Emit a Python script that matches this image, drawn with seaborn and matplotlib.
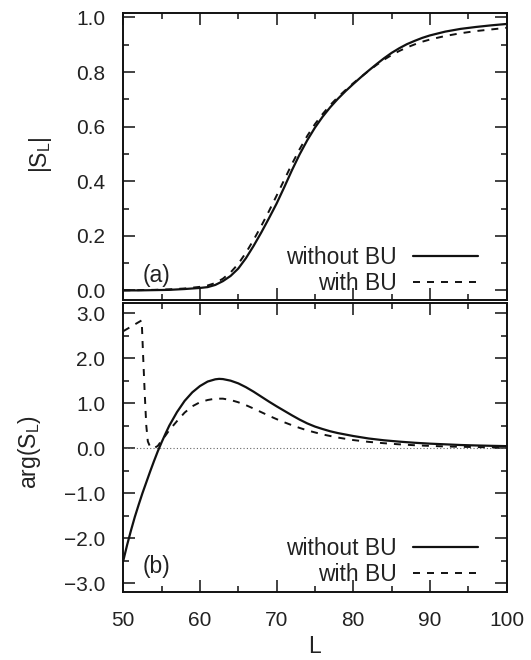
import numpy as np
import pandas as pd
import matplotlib
matplotlib.use('Agg')
import matplotlib.pyplot as plt
import seaborn as sns
from matplotlib.ticker import MultipleLocator

# |S_L|
L_abs = [50, 52, 54, 56, 58, 60, 61, 62, 63, 64, 65, 66, 67, 68, 69, 70,
         71, 72, 73, 74, 75, 76, 77, 78, 79, 80, 81, 82, 83, 84, 85, 86,
         87, 88, 89, 90, 92, 94, 96, 98, 100]
abs_without = [0.000, 0.000, 0.001, 0.002, 0.005, 0.009, 0.012, 0.020, 0.034,
               0.053, 0.080, 0.118, 0.163, 0.212, 0.264, 0.318, 0.378, 0.440,
               0.498, 0.550, 0.596, 0.636, 0.671, 0.702, 0.730, 0.756, 0.781,
               0.805, 0.828, 0.850, 0.870, 0.887, 0.902, 0.914, 0.925, 0.934,
               0.948, 0.958, 0.965, 0.971, 0.976]
abs_with = [0.000, 0.001, 0.002, 0.004, 0.007, 0.013, 0.018, 0.027, 0.043,
            0.066, 0.097, 0.138, 0.185, 0.236, 0.290, 0.347, 0.405, 0.463,
            0.517, 0.566, 0.609, 0.646, 0.679, 0.708, 0.734, 0.759, 0.782,
            0.804, 0.825, 0.845, 0.862, 0.877, 0.890, 0.901, 0.911, 0.919,
            0.932, 0.942, 0.950, 0.956, 0.962]

# arg(S_L)
L_arg_without = [50, 50.5, 51, 51.5, 52, 52.5, 53, 53.5, 54, 54.5, 55, 55.5,
                 56, 57, 58, 59, 60, 61, 62, 62.5, 63, 64, 65, 66, 67, 68, 69,
                 70, 71, 72, 73, 74, 75, 76, 77, 78, 80, 82, 84, 86, 88, 90,
                 92, 94, 96, 98, 100]
arg_without = [-2.50, -2.15, -1.83, -1.53, -1.26, -1.00, -0.76, -0.52, -0.29,
               -0.07, 0.13, 0.32, 0.50, 0.80, 1.05, 1.24, 1.38, 1.48, 1.53,
               1.54, 1.535, 1.50, 1.44, 1.355, 1.255, 1.145, 1.035, 0.93,
               0.83, 0.73, 0.635, 0.55, 0.48, 0.425, 0.375, 0.335, 0.27,
               0.215, 0.175, 0.145, 0.12, 0.10, 0.085, 0.07, 0.06, 0.052,
               0.045]
L_arg_with = [50, 51, 52, 52.4, 52.6, 52.8, 53.0, 53.2, 53.5, 54, 54.5, 55,
              55.5, 56, 57, 58, 59, 60, 61, 62, 63, 64, 65, 66, 67, 68, 69,
              70, 71, 72, 73, 74, 76, 78, 80, 82, 84, 86, 88, 90, 92, 94, 96,
              98, 100]
arg_with = [2.60, 2.70, 2.80, 2.84, 2.00, 1.20, 0.50, 0.15, 0.03, 0.00, 0.05,
            0.17, 0.28, 0.40, 0.60, 0.79, 0.93, 1.02, 1.07, 1.10, 1.10, 1.07,
            1.02, 0.955, 0.88, 0.80, 0.72, 0.645, 0.575, 0.51, 0.45, 0.395,
            0.305, 0.235, 0.18, 0.14, 0.11, 0.085, 0.065, 0.05, 0.038, 0.03,
            0.024, 0.019, 0.015]

sns.set_theme(style='ticks')
plt.rcParams['font.family'] = ['Liberation Sans', 'DejaVu Sans']
plt.rcParams['mathtext.default'] = 'regular'
plt.rcParams['text.color'] = '#222222'
plt.rcParams['axes.labelcolor'] = '#222222'
plt.rcParams['xtick.color'] = '#222222'
plt.rcParams['ytick.color'] = '#222222'

FS = 15        # tick labels
FS_TXT = 16.5  # legend, axis labels, panel tags
INK = '#111111'
DASH = (3.6, 3.6)

fig = plt.figure(figsize=(5.31, 6.6), dpi=100)
ax1 = fig.add_axes([0.2322, 0.5447, 0.7217, 0.4351])
ax2 = fig.add_axes([0.2322, 0.1035, 0.7217, 0.4370])

# panel (a)
sns.lineplot(x=L_abs, y=abs_without, ax=ax1, color=INK, lw=1.6,
             label='without BU')
sns.lineplot(x=L_abs, y=abs_with, ax=ax1, color=INK, lw=1.4,
             label='with BU', linestyle=(0, DASH))

# panel (b)
ax2.axhline(0, color='#666666', lw=0.8, ls=(0, (1, 2)), zorder=1)
sns.lineplot(x=L_arg_without, y=arg_without, ax=ax2, color=INK, lw=1.6,
             label='without BU')
sns.lineplot(x=L_arg_with, y=arg_with, ax=ax2, color=INK, lw=1.4,
             label='with BU', linestyle=(0, DASH))

ax1.set_ylim(-0.037, 1.015)
ax2.set_ylim(-3.19, 3.22)
for ax, leg_y in ((ax1, 0.104), (ax2, 0.105)):
    ax.set_xlim(50, 100)
    ax.xaxis.set_major_locator(MultipleLocator(10))
    ax.xaxis.set_minor_locator(MultipleLocator(5))
    ax.tick_params(which='both', direction='in', top=True, right=True,
                   labelsize=FS, width=1.2)
    ax.tick_params(which='major', length=8.5)
    ax.tick_params(which='minor', length=4.5)
    ax.tick_params(axis='y', which='major', pad=13)
    ax.tick_params(axis='x', which='major', pad=14)
    for s in ax.spines.values():
        s.set_linewidth(1.4)
        s.set_color(INK)
    ax.legend(loc='center right', bbox_to_anchor=(0.926, leg_y),
              frameon=False, markerfirst=False, fontsize=FS_TXT,
              handlelength=2.84, handletextpad=0.72, borderpad=0,
              borderaxespad=0, labelspacing=0.1)

ax1.yaxis.set_major_locator(MultipleLocator(0.2))
ax1.yaxis.set_minor_locator(MultipleLocator(0.1))
ax1.yaxis.set_major_formatter(lambda v, p: f'{v:.1f}')
ax1.tick_params(labelbottom=False)

ax2.yaxis.set_major_locator(MultipleLocator(1.0))
ax2.yaxis.set_minor_locator(MultipleLocator(0.5))
ax2.yaxis.set_major_formatter(lambda v, p: f'{v:.1f}'.replace('-', '\u2212'))

ax1.set_ylabel(r'|S$_L$|', fontsize=FS_TXT, va='center')
ax1.yaxis.set_label_coords(-0.217, 0.507)
ax2.set_ylabel(r'arg(S$_L$)', fontsize=FS_TXT, va='center')
ax2.yaxis.set_label_coords(-0.244, 0.485)
ax2.set_xlabel('L', fontsize=FS_TXT, va='center')
ax2.xaxis.set_label_coords(0.5, -0.19)

ax1.text(0.0864, 0.0877, '(a)', transform=ax1.transAxes, fontsize=FS_TXT,
         ha='center', va='center')
ax2.text(0.0864, 0.087, '(b)', transform=ax2.transAxes, fontsize=FS_TXT,
         ha='center', va='center')

fig.savefig('out.png', dpi=100)
